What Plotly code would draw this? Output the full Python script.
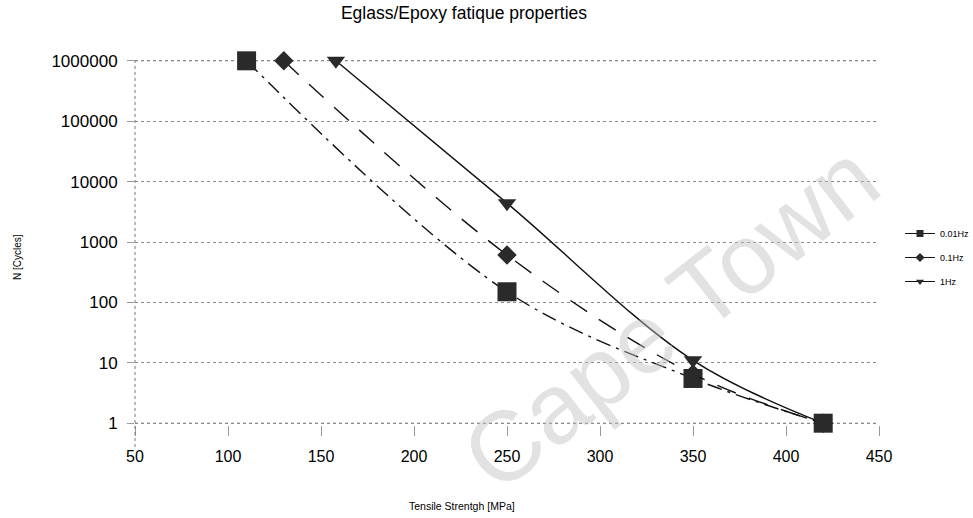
import plotly.graph_objects as go

# Data
strength_001 = [110, 250, 350, 420]
cycles_001 = [1000000, 150, 5.5, 1]
strength_01 = [130, 250, 350, 420]
cycles_01 = [1000000, 610, 6.5, 1]
strength_1 = [158, 250, 350, 420]
cycles_1 = [1000000, 4400, 11, 1]
y_tick_vals = [1, 10, 100, 1000, 10000, 100000, 1000000]
y_tick_text = ["1", "10", "100", "1000", "10000", "100000", "1000000"]
x_tick_vals = [50, 100, 150, 200, 250, 300, 350, 400, 450]

series = [
    ("0.01Hz", strength_001, cycles_001, "square", 19, "longdashdot"),
    ("0.1Hz", strength_01, cycles_01, "diamond", 15, "20px,14px"),
    ("1Hz", strength_1, cycles_1, "triangle-down", 16, "solid"),
]

FONT = "Liberation Sans, Arial, sans-serif"
GRID = "#8a8a8a"
fig = go.Figure()
for name, xs, ys, sym, size, dash in series:
    fig.add_trace(go.Scatter(
        x=xs, y=ys, mode="lines+markers", name=name, showlegend=False,
        line=dict(color="#111", width=1.4, dash=dash, shape="spline", smoothing=1.0),
        marker=dict(symbol=sym, size=size, color="#2a2a2a"),
        cliponaxis=False,
    ))
# legend entries (small symbols)
for name, xs, ys, sym, size, dash in series:
    fig.add_trace(go.Scatter(
        x=[None], y=[None], mode="lines+markers", name=name, legendgroup=name,
        line=dict(color="#111", width=1),
        marker=dict(symbol=sym, size=7, color="#2a2a2a"),
    ))

# plot area: x 135..879, y 59..425 (log range -0.03..6.03)
T, B, L, R = 59, 93, 135, 94
PH = 518 - T - B
fig.update_layout(
    width=973, height=518,
    margin=dict(l=L, r=R, t=T, b=B, autoexpand=False),
    paper_bgcolor="white", plot_bgcolor="white",
    font=dict(family=FONT, color="black"),
    title=dict(text="Eglass/Epoxy fatique properties", x=464/973, xanchor="center",
               xref="container", y=1-13/518, yanchor="middle", yref="container",
               font=dict(size=17.5, family=FONT, color="black")),
    legend=dict(x=900/973, y=1-219/518, xref="container", yref="container",
                xanchor="left", yanchor="top",
                font=dict(size=9, family=FONT), bgcolor="rgba(0,0,0,0)",
                tracegroupgap=5, itemwidth=30),
)
fig.update_xaxes(
    range=[50, 450], tickvals=x_tick_vals, showgrid=False, zeroline=False,
    showline=False, ticks="outside", ticklen=10, tickcolor="#999", tickwidth=1,
    tickfont=dict(size=16), ticklabelstandoff=7,
)
fig.update_yaxes(
    type="log", range=[-0.03, 6.03], tickvals=y_tick_vals, ticktext=y_tick_text,
    showgrid=True, gridcolor=GRID, griddash="dot", gridwidth=1,
    zeroline=False, showline=False, ticks="outside", ticklen=7, tickcolor="#999",
    tickfont=dict(size=17), ticklabelstandoff=6,
)
# gridlines at the range ends (bottom and top ticks)
for v in (y_tick_vals[0], y_tick_vals[-1]):
    fig.add_shape(type="line", xref="paper", yref="y", x0=0, x1=1, y0=v, y1=v,
                  layer="below", line=dict(color=GRID, width=1, dash="dot"))
# axis titles
fig.add_annotation(text="Tensile Strentgh [MPa]", xref="paper", yref="paper",
                   x=(462-L)/744, y=(518-B-506)/PH, xanchor="center", yanchor="middle",
                   showarrow=False, font=dict(size=10.5, family=FONT, color="black"))
fig.add_annotation(text="N [Cycles]", xref="paper", yref="paper",
                   x=(17-L)/744, y=(518-B-257)/PH, xanchor="center", yanchor="middle",
                   textangle=-90, showarrow=False, font=dict(size=10, family=FONT, color="black"))
# y axis line (dotted)
fig.add_shape(type="line", xref="paper", yref="paper", x0=0, x1=0, y0=-0.06, y1=1,
              line=dict(color="#777", width=1, dash="dot"))
# watermark
fig.add_annotation(text="Cape Town", xref="paper", yref="paper",
                   x=(670-L)/744, y=(518-B-316)/PH, xanchor="center", yanchor="middle",
                   showarrow=False, textangle=-38,
                   font=dict(size=99, family=FONT, color="rgba(190,190,190,0.45)"))

fig.write_html("out.html")
